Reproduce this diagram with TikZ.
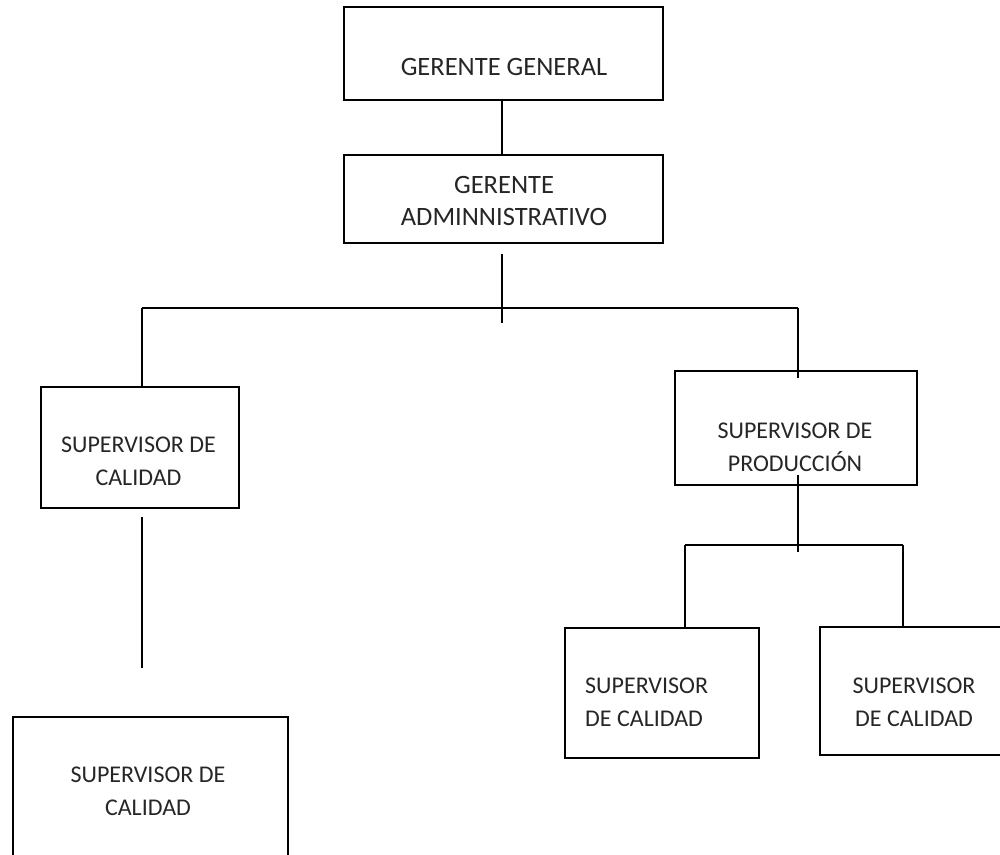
\documentclass[tikz,border=0pt]{standalone}
\usepackage{fontspec}
\setmainfont{Carlito}
\usetikzlibrary{calc}
\begin{document}
\begin{tikzpicture}[x=1pt,y=-1pt,
  box/.style={draw=black,line width=1.8pt,rectangle,inner sep=0pt,anchor=north west},
  lbl/.style={inner sep=0pt,font=\fontsize{24}{33}\selectfont,align=center,text=black!85},
  biglbl/.style={lbl,font=\fontsize{26.5}{32}\selectfont},
  link/.style={draw=black,line width=1.8pt}]
\useasboundingbox (0,0) rectangle (1000,854);
\clip (0,0) rectangle (1000,854);

% boxes
\node[box,minimum width=319pt,minimum height=93pt] (gg) at (343,6) {};
\node[box,minimum width=319pt,minimum height=88pt] (ga) at (343,154) {};
\node[box,minimum width=198pt,minimum height=121pt] (sc1) at (40,386) {};
\node[box,minimum width=242pt,minimum height=114pt] (sp) at (674,370) {};
\node[box,minimum width=275pt,minimum height=160pt] (sc2) at (12,716) {};
\node[box,minimum width=194pt,minimum height=130pt] (sc3) at (564,627) {};
\node[box,minimum width=200pt,minimum height=128pt] (sc4) at (819,626) {};

% labels
\node[biglbl] (tgg) at (504,66.5) {GERENTE GENERAL};
\node[biglbl] (tga) at (504,201) {GERENTE\\ADMINNISTRATIVO};
\node[lbl] (tsc1) at (138.5,461) {SUPERVISOR DE\\CALIDAD};
\node[lbl] (tsp) at (795,447) {SUPERVISOR DE\\PRODUCCIÓN};
\node[lbl] (tsc2) at (148,791.5) {SUPERVISOR DE\\CALIDAD};
\node[lbl,align=left,anchor=west] (tsc3) at (585,702.5) {SUPERVISOR\\DE CALIDAD};
\node[lbl] (tsc4) at (914,702.5) {SUPERVISOR\\DE CALIDAD};

% junction points
\coordinate (a1) at (502,254);
\coordinate (a2) at (502,323);
\coordinate (hl) at (142,308);
\coordinate (hr) at (798,308);
\coordinate (b1) at (798,475);
\coordinate (b2) at (798,552);
\coordinate (bl) at (685,545);
\coordinate (br) at (903,545);
\coordinate (c1) at (142,517);
\coordinate (c2) at (142,668);

% connectors
\draw[link] (502,99) -- (502,154);
\draw[link] (a1) -- (a2);
\draw[link] (hl) -- (hr);
\draw[link] (hl) -- (hl |- sc1.north);
\draw[link] (hr) -- ($(hr |- sp.north)+(0,8)$);
\draw[link] (b1) -- (b2);
\draw[link] (bl) -- (br);
\draw[link] (bl) -- (bl |- sc3.north);
\draw[link] (br) -- (br |- sc4.north);
\draw[link] (c1) -- (c2);
\end{tikzpicture}
\end{document}
